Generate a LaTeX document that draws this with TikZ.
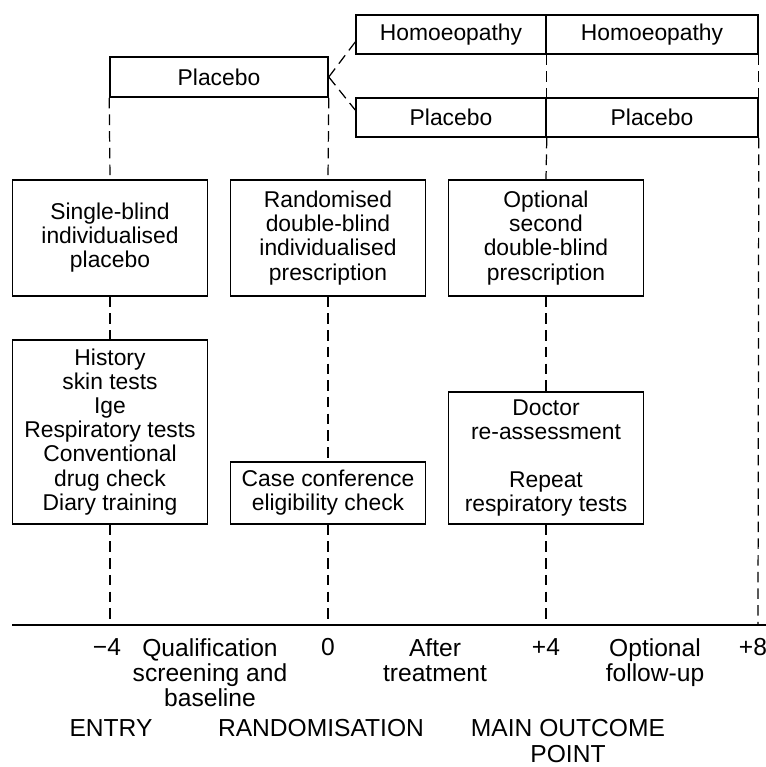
\documentclass[tikz,border=0pt]{standalone}
\usepackage{fontspec}
\setmainfont{Liberation Sans}
\usetikzlibrary{positioning}

\newcommand{\weekmark}[3]{
	\node[weeklabel] (#1) at (#2, 638) {#3};
}

\begin{document}
\begin{tikzpicture}[x=0.02cm,y=-0.02cm,line width=0.9pt,
		stagebox/.style={draw,fill=white,align=center,inner sep=0pt,font=\fontsize{13}{13.7}\selectfont},
		armbox/.style={stagebox,minimum height=0.78cm},
		timeline/.style={line width=0.7pt,dash pattern=on 6pt off 3.5pt},
		weeklabel/.style={anchor=north,align=center,inner sep=0pt,font=\fontsize{14}{14.2}\selectfont},
		phaselabel/.style={anchor=north,align=center,inner sep=0pt,font=\fontsize{14}{14.8}\selectfont}]
	\useasboundingbox (0,0) rectangle (766,767);

	\node[stagebox,minimum width=4.36cm,minimum height=0.8cm] (runin) at (219,77) {Placebo};
	\node[armbox,minimum width=3.8cm] (hom1) at (451,34.5) {Homoeopathy};
	\node[armbox,minimum width=4.24cm] (hom2) at (652,34.5) {Homoeopathy};
	\node[armbox,minimum width=3.8cm] (plc1) at (451,117.5) {Placebo};
	\node[armbox,minimum width=4.24cm] (plc2) at (652,117.5) {Placebo};

	\node[stagebox,minimum width=3.9cm,minimum height=2.32cm] (single) at (110,238) {Single-blind\\individualised\\placebo};
	\node[stagebox,minimum width=3.9cm,minimum height=2.32cm] (rand) at (328,238) {Randomised\\double-blind\\individualised\\prescription};
	\node[stagebox,minimum width=3.9cm,minimum height=2.32cm] (second) at (546,238) {Optional\\second\\double-blind\\prescription};

	\node[stagebox,minimum width=3.9cm,minimum height=3.68cm] (history) at (110,432) {History\\skin tests\\Ige\\Respiratory tests\\Conventional\\drug check\\Diary training};
	\node[stagebox,minimum width=3.9cm,minimum height=1.24cm] (conf) at (328,493) {Case conference\\eligibility check};
	\node[stagebox,minimum width=3.9cm,minimum height=2.64cm] (doctor) at (546,458) {Doctor\\re-assessment\\[13.7pt]Repeat\\respiratory tests};

	\coordinate (axl) at (12,625);
	\coordinate (axr) at (766,625);
	\coordinate (wm4) at (110,625);
	\coordinate (w0) at (328,625);
	\coordinate (wp4) at (546,625);
	\coordinate (wp8) at (758,625);
	\draw[line width=1.3pt] (axl) -- (axr);

	\draw[timeline] (runin.east) -- ([yshift=-0.15cm]hom1.west);
	\draw[timeline] (runin.east) -- ([yshift=0.15cm]plc1.west);
	\draw[timeline] (runin.south west) -- (single.north);
	\draw[timeline] (single.south) -- (history.north);
	\draw[timeline] (history.south) -- (wm4);
	\draw[timeline] (runin.south east) -- (rand.north);
	\draw[timeline] (rand.south) -- (conf.north);
	\draw[timeline] (conf.south) -- (w0);
	\draw[timeline] (hom1.south east) -- (plc1.north east);
	\draw[timeline] (plc1.south east) -- (second.north);
	\draw[timeline] (second.south) -- (doctor.north);
	\draw[timeline] (doctor.south) -- (wp4);
	\draw[timeline] (hom2.south east) -- (plc2.north east);
	\draw[timeline] (plc2.south east) -- (wp8);

	\weekmark{lm4}{107}{−4}
	\weekmark{qual}{210}{Qualification\\screening and\\baseline}
	\weekmark{l0}{328}{0}
	\weekmark{after}{435}{After\\treatment}
	\weekmark{lp4}{546}{+4}
	\weekmark{follow}{655}{Optional\\follow-up}
	\weekmark{lp8}{753}{+8}

	\node[phaselabel] (entry) at (111,719) {ENTRY};
	\node[phaselabel] (randpt) at (321,719) {RANDOMISATION};
	\node[phaselabel] (outcome) at (568,719) {MAIN OUTCOME\\POINT};
\end{tikzpicture}
\end{document}
